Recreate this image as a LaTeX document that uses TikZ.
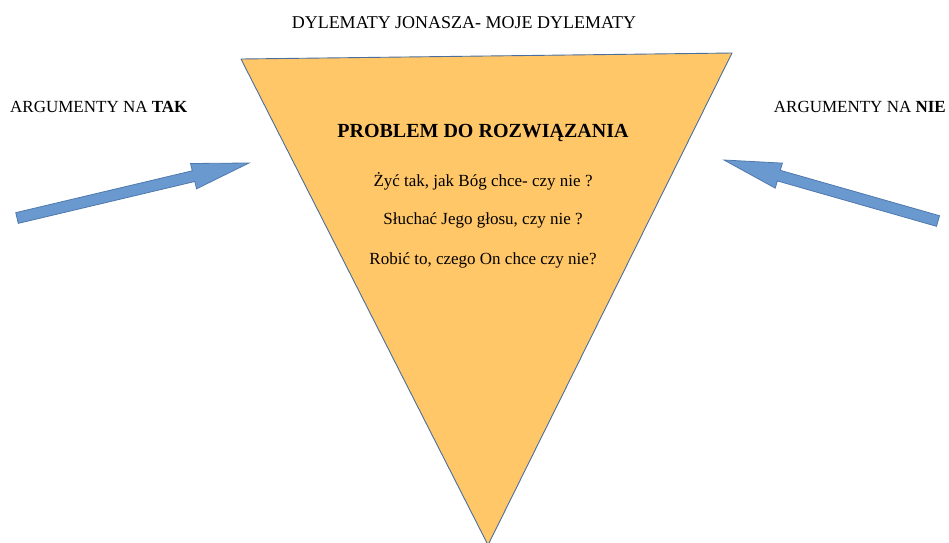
\documentclass[tikz,border=0pt]{standalone}
\usepackage{fontspec}
\setmainfont{Liberation Serif}
\usetikzlibrary{positioning, calc}

\definecolor{probfill}{RGB}{255,199,104}
\definecolor{probline}{RGB}{74,110,158}
\definecolor{arrfill}{RGB}{106,153,208}
\definecolor{arrline}{RGB}{79,120,172}

% block arrow from #1 (tail) to #2 (tip)
\newcommand{\blockarrow}[2]{%
  \filldraw[fill=arrfill, draw=arrline, line width=0.8pt, line join=miter]
    ($(#1)!5.5pt!-90:(#2)$)
    -- ($($(#2)!57pt!(#1)$)!5.5pt!90:(#1)$)
    -- ($($(#2)!57pt!(#1)$)!13pt!90:(#1)$)
    -- (#2)
    -- ($($(#2)!57pt!(#1)$)!13pt!-90:(#1)$)
    -- ($($(#2)!57pt!(#1)$)!5.5pt!-90:(#1)$)
    -- ($(#1)!5.5pt!90:(#2)$) -- cycle;}

\begin{document}
\begin{tikzpicture}[x=1pt, y=-1pt,
    title/.style={font=\fontsize{18}{21}\selectfont, anchor=base},
    side/.style={font=\fontsize{17}{20}\selectfont, inner sep=0pt},
    problem/.style={font=\fontsize{20}{23}\selectfont\bfseries, anchor=base},
    question/.style={font=\fontsize{17}{20}\selectfont, anchor=base}]
  \useasboundingbox (0,0) rectangle (949,542);

  % the funnel
  \filldraw[fill=probfill, draw=probline, line width=0.9pt, line join=round]
    (241,59) -- (732,53) -- (488,545) -- cycle;

  \node[title] (head) at (464,28) {DYLEMATY JONASZA- MOJE DYLEMATY};
  \node[side, anchor=base west] (tak) at (10,112) {ARGUMENTY NA \textbf{TAK}};
  \node[side, anchor=base east] (nie) at (946,112) {ARGUMENTY NA \textbf{NIE}};

  \node[problem] (prob) at (483,137) {PROBLEM DO ROZWIĄZANIA};
  \node[question] (q1) at (483,186) {Żyć tak, jak Bóg chce- czy nie ?};
  \node[question] (q2) at (483,224) {Słuchać Jego głosu, czy nie ?};
  \node[question] (q3) at (483,264) {Robić to, czego On chce czy nie?};

  % arrows
  \coordinate (taktail) at (17,218);
  \coordinate (taktip) at (249,163);
  \coordinate (nietail) at (938,221);
  \coordinate (nietip) at (724,160);
  \blockarrow{taktail}{taktip}
  \blockarrow{nietail}{nietip}
\end{tikzpicture}
\end{document}
